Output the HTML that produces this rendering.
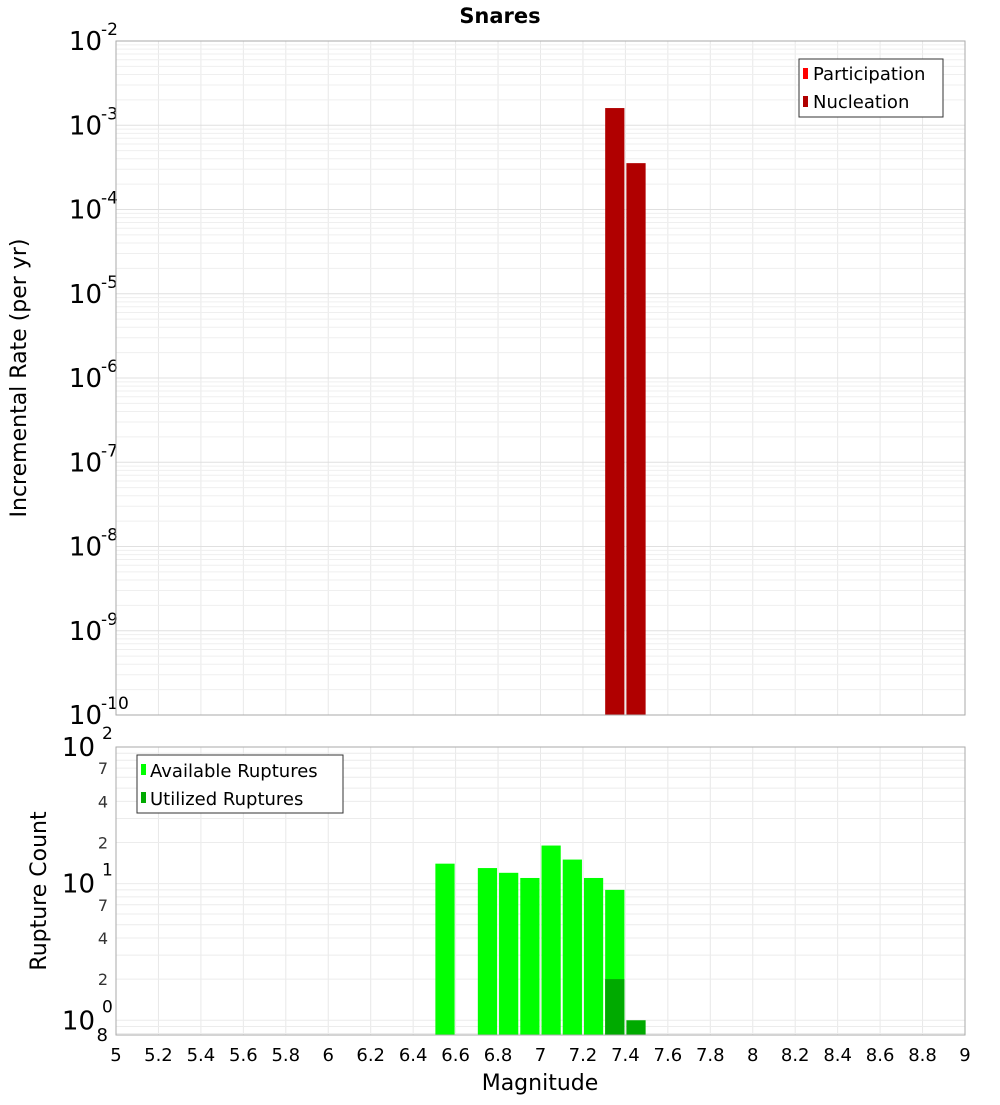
<!DOCTYPE html>
<html><head><meta charset="utf-8"><style>
body{margin:0;background:#fff;}
svg text{font-family:"DejaVu Sans","Liberation Sans",sans-serif;}
</style></head><body>
<svg id="c" width="1000" height="1100" xmlns="http://www.w3.org/2000/svg">
<text x="500" y="23" text-anchor="middle" font-size="21" font-weight="bold">Snares</text>
<text transform="translate(26,378) rotate(-90)" text-anchor="middle" font-size="22">Incremental Rate (per yr)</text>
<text transform="translate(46,891) rotate(-90)" text-anchor="middle" font-size="22">Rupture Count</text>
<text x="540" y="1090" text-anchor="middle" font-size="22">Magnitude</text>
<g id="gtop"></g><g id="gbot"></g>
<g>
<rect x="799" y="59" width="144" height="58" fill="#fff" stroke="#333"/>
<rect x="803" y="68" width="5" height="11" fill="#ff0000"/>
<text x="813" y="80" font-size="18">Participation</text>
<rect x="803" y="96" width="5" height="11" fill="#b00000"/>
<text x="813" y="108" font-size="18">Nucleation</text>
</g>
<g>
<rect x="137" y="755" width="206" height="58" fill="#fff" stroke="#333"/>
<rect x="141" y="764" width="5" height="11" fill="#00ff00"/>
<text x="150" y="777" font-size="18">Available Ruptures</text>
<rect x="141" y="792" width="5" height="11" fill="#00aa00"/>
<text x="150" y="805" font-size="18">Utilized Ruptures</text>
</g>
</svg>
<script>
const xTicks=[5,5.2,5.4,5.6,5.8,6,6.2,6.4,6.6,6.8,7,7.2,7.4,7.6,7.8,8,8.2,8.4,8.6,8.8,9];
const nuclMags=[7.35,7.45];
const nuclRates=[1.6e-3,3.55e-4];
const availMags=[6.55,6.75,6.85,6.95,7.05,7.15,7.25,7.35];
const availCounts=[14,13,12,11,19,15,11,9];
const usedMags=[7.35,7.45];
const usedCounts=[2,1];
const topExps=[-2,-3,-4,-5,-6,-7,-8,-9,-10];
const botMinor=[2,4,7,20,40,70];

const NS="http://www.w3.org/2000/svg";
const L=116,R=965;
const X=m=>L+(m-5)/4*(R-L);
const TT=41,TB=715,BT=747,BB=1035;
const Yt=v=>TT+(-2-Math.log10(v))/8*(TB-TT);
const bMin=0.78,bMax=100;
const Yb=v=>BT+(Math.log10(bMax)-Math.log10(v))/(Math.log10(bMax)-Math.log10(bMin))*(BB-BT);
function el(p,t,a){const e=document.createElementNS(NS,t);for(const k in a)e.setAttribute(k,a[k]);p.appendChild(e);return e;}
const gTop=document.getElementById('gtop'),gBot=document.getElementById('gbot');

function vgrid(g,y0,y1){xTicks.forEach(m=>{const l=el(g,'line',{x1:X(m),x2:X(m),y1:y0,y2:y1,stroke:'#e8e8e8'});

});}
vgrid(gTop,TT,TB);vgrid(gBot,BT,BB);
for(let e=-10;e<-2;e++)for(let k=1;k<10;k++){const y=Yt(k*Math.pow(10,e));const l=el(gTop,'line',{x1:L,x2:R,y1:y,y2:y,stroke:k==1?'#e0e0e0':'#efefef'});

}
for(let e=-1;e<2;e++)for(let k=1;k<10;k++){const v=k*Math.pow(10,e);if(v<bMin||v>bMax)continue;const y=Yb(v);const l=el(gBot,'line',{x1:L,x2:R,y1:y,y2:y,stroke:'#ececec'});

}

nuclMags.forEach((m,i)=>{const y=Yt(nuclRates[i]);const r=el(gTop,'rect',{x:X(m-0.05)+1,y:y,width:X(m+0.05)-X(m-0.05)-2,height:TB-y,fill:'#b00000'});

});
availMags.forEach((m,i)=>{const y=Yb(availCounts[i]);const r=el(gBot,'rect',{x:X(m-0.05)+1,y:y,width:X(m+0.05)-X(m-0.05)-2,height:BB-y,fill:'#00ff00'});

});
usedMags.forEach((m,i)=>{const y=Yb(usedCounts[i]);const r=el(gBot,'rect',{x:X(m-0.05)+1,y:y,width:X(m+0.05)-X(m-0.05)-2,height:BB-y,fill:'#00aa00'});

});

[[TT,TB],[BT,BB]].forEach(([a,b])=>{const r=el(document.getElementById('c'),'rect',{x:L,y:a,width:R-L,height:b-a,fill:'none',stroke:'#aaa'});

});

xTicks.forEach(m=>{const t=el(gBot,'text',{x:X(m),y:1061,'text-anchor':'middle','font-size':18});t.textContent=String(m);

});

topExps.forEach(e=>{const y=Yt(Math.pow(10,e));const t=el(gTop,'text',{x:102,y:y+9,'text-anchor':'end','font-size':26});t.textContent='10';


const s=el(gTop,'text',{x:101,y:y-6,'font-size':17});s.textContent=String(e);

});

[[100,'2'],[10,'1'],[1,'0']].forEach(([v,e])=>{const y=Yb(v);const t=el(gBot,'text',{x:95,y:y+9,'text-anchor':'end','font-size':26});t.textContent='10';


const s=el(gBot,'text',{x:102,y:y-8,'font-size':17});s.textContent=e;

});
botMinor.forEach(v=>{const t=el(gBot,'text',{x:108,y:Yb(v)+6,'text-anchor':'end','font-size':16,fill:'#333'});t.textContent=String(v>=10?v/10:v);

});
const t8=el(gBot,'text',{x:108,y:1041,'text-anchor':'end','font-size':18});t8.textContent='8';


</script>
</body></html>
